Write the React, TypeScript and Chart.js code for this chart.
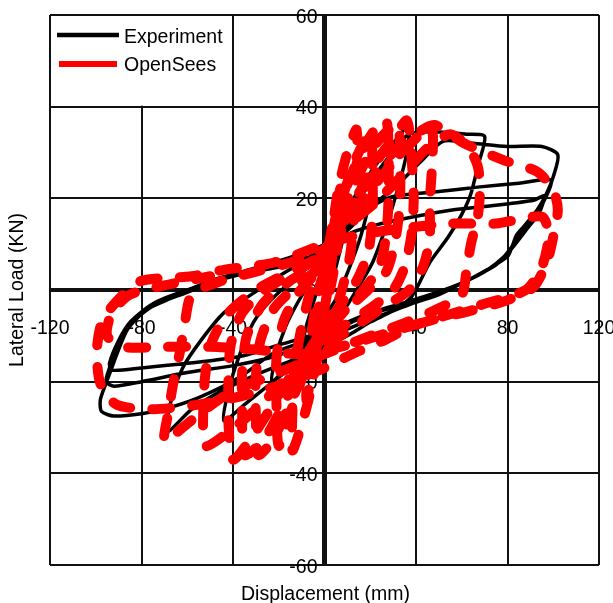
import React, { useEffect, useRef } from "react";
import { Chart, registerables } from "chart.js";

Chart.register(...registerables);

const xTicks = [-120, -80, -40, 0, 40, 80, 120];
const yTicks = [-60, -40, -20, 0, 20, 40, 60];
const seriesNames = ["Experiment", "OpenSees"];
const xTitle = "Displacement (mm)";
const yTitle = "Lateral Load (KN)";

// [displacement (mm), lateral load (kN)]
const experimentPoints: [number, number][] = [
  [0, 0], [3, 7], [6, 12], [10, 16], [8, 11], [5, 5], [2, -1], [-2, -6], [-6, -10], [-10, -13], [-8, -8], [-5, -3], [-2, 2], [0, 5],
  [5, 12], [11, 18], [17, 23], [22, 26], [20, 20], [16, 12], [11, 5], [5, -2], [-3, -8], [-10, -13], [-17, -17], [-23, -20], [-21, -14], [-17, -8], [-12, -3], [-6, 2], [0, 6],
  [6, 14], [14, 21], [22, 27], [30, 32], [37, 36], [36, 30], [32, 22], [27, 14], [21, 6], [14, 0], [5, -7], [-5, -12], [-15, -17], [-25, -21], [-35, -25], [-44, -28.5], [-42, -22], [-37, -14], [-31, -7], [-23, -2], [-12, 3], [0, 8],
  [8, 14], [18, 22], [28, 29], [37, 34], [50, 34.5], [62, 34], [70, 33.5], [67, 27], [64, 21], [60, 16.5], [54, 11.5], [46, 6], [38, -1.5], [30, -4.5], [20, -7], [10, -10], [0, -12.5], [-15, -15.5], [-30, -18.5], [-45, -22], [-58, -26], [-69, -31], [-67, -24], [-62, -17], [-54, -11], [-44, -5], [-32, -1], [-20, 3], [-10, 6], [0, 9.5],
  [10, 13], [20, 18], [32, 23], [42, 28], [52, 32.5], [65, 32], [80, 31.3], [95, 31.3], [102, 29.5], [100, 24.7], [97, 21], [93, 17.5], [87, 13.8], [84, 12], [82, 9.5], [80, 7.3], [71, 4.4], [60, 1.5], [49, -0.7], [39, -2.5], [19, -5.5], [1, -9.5], [-22, -13.7], [-37, -19], [-55, -23.5], [-70, -26], [-80, -27], [-92, -27.5], [-97.5, -26.5], [-98, -24], [-96, -21], [-93, -17], [-90, -13], [-86, -8.5], [-78, -4.4], [-69, -2.2], [-62, -0.5], [-50, 2], [-36, 4], [-22, 6], [-10, 8], [0, 10],
  [10, 14], [20, 18], [30, 20.4], [50, 21.5], [68, 22.5], [85, 23.3], [99, 24], [97, 20.5], [93, 17], [87, 13.5], [82, 9.5], [75, 5.5], [62, 2], [50, -1], [38, -3], [20, -6.5], [0, -10.5], [-22, -14.5], [-40, -16.5], [-60, -18], [-80, -20], [-92, -21], [-95.5, -20], [-94, -17], [-91, -12.5], [-86, -8], [-75, -3.5], [-60, -0.5], [-45, 2.5], [-30, 4.5], [-15, 6.5], [0, 8],
  [11.4, 12.4], [25, 14.5], [39, 16], [56.5, 17.5], [75, 18.5], [91.5, 19.6], [96, 20.5], [94, 17], [88, 13], [80, 8], [70, 4], [55, 0.5], [40, -2], [20, -5], [0, -9], [-20, -12], [-37, -14.5], [-60, -16], [-80, -17], [-93, -17.5], [-94, -16], [-90, -11], [-85, -7], [-75, -3], [-60, 0], [-40, 3], [-20, 5], [0, 7],
];

const openSeesPoints: [number, number][] = [
  [0, 0], [2, 8], [4, 14], [5, 17], [4, 10], [2, 2], [0, -4], [-2, -9], [-4, -14], [-5, -17], [-4, -10], [-2, -2], [0, 3],
  [2, 10], [5, 18], [8, 24], [7, 16], [5, 7], [2, -1], [-2, -9], [-5, -17], [-8, -24], [-7, -16], [-5, -7], [-2, 1], [0, 4],
  [3, 12], [6, 22], [10, 30], [14, 35], [14, 26], [13, 16], [11, 7], [7, -1], [2, -8], [-3, -15], [-7, -24], [-11, -31], [-14, -35], [-14, -26], [-13, -17], [-10, -8], [-6, 0], [-2, 5], [0, 7],
  [4, 14], [9, 22], [14, 29], [20, 34], [21, 25], [21, 16], [19, 8], [14, 2], [6, -4], [-3, -10], [-9, -18], [-15, -27], [-20, -34], [-21, -25], [-21, -15], [-18, -7], [-12, -1], [-5, 3], [0, 6],
  [5, 16], [10, 23], [16, 30], [22, 35], [27, 37], [28, 29], [28, 20], [27, 12], [24, 5], [17, 0], [8, -5], [-2, -11], [-9, -18], [-16, -26], [-23, -33], [-29, -36], [-30, -28], [-30, -19], [-28, -11], [-22, -4], [-12, 1], [0, 6],
  [6, 15], [13, 23], [20, 30], [26, 34], [32, 36], [33, 28], [33, 19], [31, 11], [27, 4], [19, 0], [8, -5], [-4, -11], [-12, -19], [-20, -27], [-27, -33], [-35, -36], [-36, -27], [-36, -18], [-34, -10], [-27, -3], [-15, 2], [0, 7],
  [8, 15], [16, 22], [24, 29], [30, 33], [36, 37], [38, 29], [39, 20], [38, 12], [35, 5], [30, 0], [20, -4], [8, -8], [-5, -13], [-15, -19], [-25, -27], [-33, -33], [-40, -37], [-42, -29], [-42, -20], [-41, -12], [-36, -5], [-26, 0], [-13, 4], [0, 8],
  [10, 15], [22, 23], [34, 30], [42, 34], [47, 35], [47, 27], [46, 19], [46, 11], [43, 5], [37, 0], [25, -4], [10, -9], [-5, -14], [-18, -20], [-30, -26], [-42, -31], [-52, -34], [-53, -26], [-52, -18], [-49, -11], [-42, -5], [-30, 0], [-15, 4], [0, 8],
  [10, 14], [22, 19], [34, 25], [45, 31], [55, 34], [63, 31], [67, 27], [68, 22], [67, 16], [64, 10], [62, 4], [60, -1], [50, -4], [36, -7], [20, -10], [5, -13], [-10, -16], [-25, -19], [-40, -22], [-52, -26], [-62, -30], [-70, -33], [-68, -26], [-66, -20], [-63, -13], [-61, -7], [-58, -1], [-45, 2], [-30, 4], [-15, 6], [0, 9],
  [10, 16], [20, 24], [30, 30], [40, 34], [48, 36], [61, 32], [78.5, 28.3], [93, 25.8], [100, 21.8], [102, 17.5], [100, 11.6], [97.5, 6.5], [91.5, 0.7], [80, -2.2], [62.5, -4.7], [51, -6], [38, -8], [26, -11], [12, -14], [0, -17], [-15, -20], [-35, -23], [-55, -25], [-75, -26], [-91, -25], [-98, -20.4], [-99.5, -13], [-97, -6.5], [-89, -1.5], [-80, 2], [-58, 3], [-44, 4.4], [-22, 6], [0, 10],
  [15, 12], [35, 13.5], [55, 14.5], [75, 14.5], [95, 16], [98, 12], [95, 5], [88, 0], [70, -3], [50, -6], [30, -9], [10, -12], [-10, -14], [-30, -13], [-50, -12.4], [-70, -12.4], [-88, -12.4], [-95, -10], [-93, -5], [-85, -1], [-70, 1], [-50, 3],
];

const FONT = "19.5px 'Liberation Sans', Arial, sans-serif";

const decorPlugin = {
  id: "decor",
  beforeDatasetsDraw(chart: any) {
    const ctx = chart.ctx;
    const xs = chart.scales.x;
    const ys = chart.scales.y;
    ctx.save();
    const lx0 = xs.getPixelForValue(-120) + 1;
    const lx1 = xs.getPixelForValue(-40) - 1;
    const ly0 = ys.getPixelForValue(60) + 1;
    const ly1 = ys.getPixelForValue(40) - 1;
    ctx.fillStyle = "#fff";
    ctx.fillRect(lx0, ly0, lx1 - lx0, ly1 - ly0);

    ctx.font = FONT;
    ctx.fillStyle = "#000";
    const x0 = xs.getPixelForValue(0);
    const y0 = ys.getPixelForValue(0);
    ctx.textAlign = "right";
    ctx.textBaseline = "alphabetic";
    yTicks.forEach((v) => {
      ctx.fillText(String(v), x0 - 7, ys.getPixelForValue(v) + 7.5);
    });
    ctx.textAlign = "center";
    xTicks.forEach((v) => {
      ctx.fillText(String(v), xs.getPixelForValue(v), y0 + 43.5);
    });
    ctx.fillText(xTitle, (xs.left + xs.right) / 2 + 1, 600);
    ctx.save();
    ctx.translate(23, (ys.top + ys.bottom) / 2);
    ctx.rotate(-Math.PI / 2);
    ctx.fillText(yTitle, 0, 0);
    ctx.restore();

    ctx.lineCap = "butt";
    ctx.strokeStyle = "#000";
    ctx.lineWidth = 4.5;
    ctx.beginPath();
    ctx.moveTo(57, 35);
    ctx.lineTo(119, 35);
    ctx.stroke();
    ctx.strokeStyle = "#ff0000";
    ctx.lineWidth = 6;
    ctx.beginPath();
    ctx.moveTo(59, 64);
    ctx.lineTo(117, 64);
    ctx.stroke();
    ctx.textAlign = "left";
    ctx.fillStyle = "#000";
    ctx.fillText(seriesNames[0], 124, 43.3);
    ctx.fillText(seriesNames[1], 124, 70.5);
    ctx.restore();
  },
};

export default function App() {
  const ref = useRef<HTMLCanvasElement>(null);
  useEffect(() => {
    const chart = new Chart(ref.current as HTMLCanvasElement, {
      type: "scatter",
      data: {
        datasets: [
          {
            label: seriesNames[0],
            data: experimentPoints.map(([x, y]) => ({ x, y })),
            showLine: true,
            borderColor: "#000",
            backgroundColor: "#000",
            borderWidth: 3.5,
            pointRadius: 0,
            tension: 0.25,
            borderJoinStyle: "round",
            borderCapStyle: "round",
            order: 1,
          },
          {
            label: seriesNames[1],
            data: openSeesPoints.map(([x, y]) => ({ x, y })),
            showLine: true,
            borderColor: "#ff0000",
            backgroundColor: "#ff0000",
            borderWidth: 10,
            borderDash: [18, 22],
            pointRadius: 0,
            tension: 0.25,
            borderJoinStyle: "round",
            borderCapStyle: "round",
            order: 0,
          },
        ],
      },
      options: {
        animation: false,
        responsive: false,
        events: [],
        layout: { padding: { left: 50, top: 15, right: 14, bottom: 38 } },
        plugins: { legend: { display: false }, tooltip: { enabled: false } },
        scales: {
          x: {
            type: "linear",
            min: -120,
            max: 120,
            ticks: { stepSize: 40, display: false },
            border: { display: false },
            grid: {
              drawTicks: false,
              color: "#111",
              lineWidth: (c: any) => (c.tick && c.tick.value === 0 ? 5 : 2),
            },
          },
          y: {
            type: "linear",
            min: -60,
            max: 60,
            ticks: { stepSize: 20, display: false },
            border: { display: false },
            grid: {
              drawTicks: false,
              color: "#111",
              lineWidth: (c: any) => (c.tick && c.tick.value === 0 ? 4 : 2),
            },
          },
        },
      },
      plugins: [decorPlugin],
    } as any);
    return () => chart.destroy();
  }, []);
  return (
    <div style={{ position: "fixed", left: 0, top: 0, width: 613, height: 603, background: "#fff" }}>
      <canvas ref={ref} width={613} height={603} style={{ display: "block", width: 613, height: 603 }} />
    </div>
  );
}
